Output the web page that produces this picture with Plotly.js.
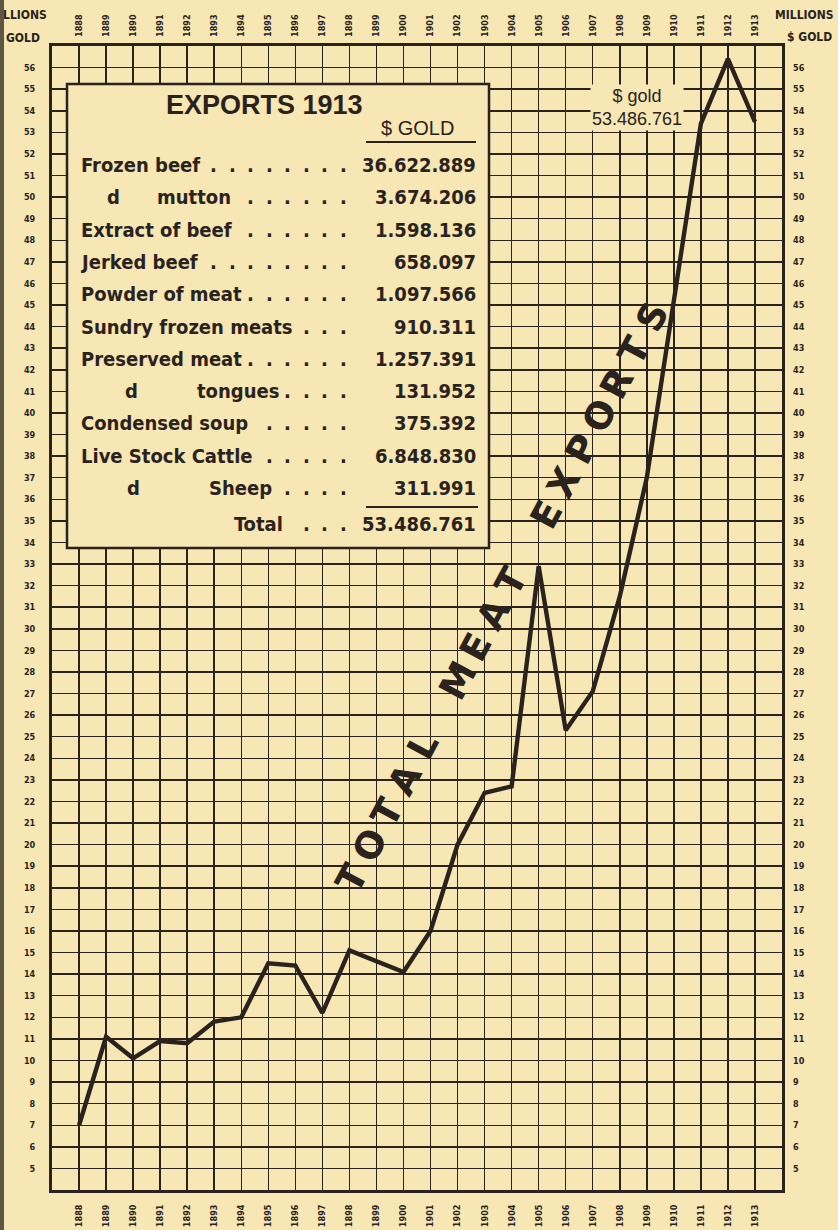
<!DOCTYPE html>
<html><head><meta charset="utf-8">
<script src="https://cdn.plot.ly/plotly-3.0.1.min.js"></script>
<style>html,body{margin:0;padding:0;background:#f6e7b4;overflow:hidden;}</style>
</head><body><div id="chart" style="width:838px;height:1230px;"></div>
<script>
// ---------------- DATA ----------------
const years = [1888,1889,1890,1891,1892,1893,1894,1895,1896,1897,1898,1899,1900,1901,1902,1903,1904,1905,1906,1907,1908,1909,1910,1911,1912,1913];
const exportsMillions = [7.0,11.1,10.1,10.9,10.8,11.8,12.0,14.5,14.4,12.2,15.1,14.6,14.1,16.0,20.0,22.4,22.7,32.9,25.3,27.1,31.5,37.0,45.2,53.4,56.4,53.49];
const yTicks = [5,6,7,8,9,10,11,12,13,14,15,16,17,18,19,20,21,22,23,24,25,26,27,28,29,30,31,32,33,34,35,36,37,38,39,40,41,42,43,44,45,46,47,48,49,50,51,52,53,54,55,56];
const tableTitle = "EXPORTS 1913";
const tableUnit = "$ GOLD";
const tableLabels = ["Frozen beef","d mutton","Extract of beef","Jerked beef","Powder of meat","Sundry frozen meats","Preserved meat","d tongues","Condensed soup","Live Stock Cattle","d Sheep"];
const tableValues = [36622889,3674206,1598136,658097,1097566,910311,1257391,131952,375392,6848830,311991];
const tableTotal = 53486761;
const totalLabel = "Total";
const lastPointLabel = "$ gold";
const slogan = "TOTAL MEAT EXPORTS";
const leftAxisTitle = ["LLIONS","GOLD"];
const rightAxisTitle = ["MILLIONS","$ GOLD"];

// ---------------- STYLE ----------------
const PAPER = '#f6e7b4', INK = '#2a231d';
const W = 838, H = 1230, L = 52, R = 782, T = 46, B = 1190;
const px = x => (x - L) / (R - L);
const py = y => (B - y) / (B - T);
const COND = '"DejaVu Sans Condensed", "DejaVu Sans", sans-serif';
const SANS = '"Liberation Sans", Arial, sans-serif';
const fmt = v => String(v).replace(/\B(?=(\d{3})+(?!\d))/g, '.');

const measureCtx = document.createElement('canvas').getContext('2d');
const textWidth = (txt, size) => { measureCtx.font = '700 ' + size + 'px ' + COND; return measureCtx.measureText(txt).width; };

const tickFont = {family: COND, size: 9, color: INK, weight: 700};
const gridStyle = {showgrid: true, gridcolor: INK, gridwidth: 1.5, zeroline: false,
  showline: true, linecolor: INK, linewidth: 3, mirror: true, ticks: '', fixedrange: true};

const traces = [
  {x: years, y: exportsMillions, type: 'scatter', mode: 'lines',
   line: {color: INK, width: 4.4}, hoverinfo: 'skip', showlegend: false},
  {x: years, y: exportsMillions, type: 'scatter', mode: 'lines', xaxis: 'x2', yaxis: 'y2',
   line: {color: INK, width: 0}, opacity: 0, hoverinfo: 'skip', showlegend: false}
];

const annotations = [];
const shapes = [];

// table box
shapes.push({type: 'rect', xref: 'paper', yref: 'paper', x0: px(67), x1: px(489), y0: py(548), y1: py(84),
  fillcolor: PAPER, line: {color: INK, width: 2.5}, layer: 'above'});
shapes.push({type: 'line', xref: 'paper', yref: 'paper', x0: px(366), x1: px(476), y0: py(142), y1: py(142),
  line: {color: INK, width: 2}, layer: 'above'});
shapes.push({type: 'line', xref: 'paper', yref: 'paper', x0: px(366), x1: px(478), y0: py(507), y1: py(507),
  line: {color: INK, width: 2}, layer: 'above'});
// scan shadow on left edge
shapes.push({type: 'rect', xref: 'paper', yref: 'paper', x0: px(0), x1: px(4), y0: py(H), y1: py(0),
  fillcolor: '#5e5646', line: {width: 0}, layer: 'above'});

const ann = (text, x, y, o) => annotations.push(Object.assign({text, x: px(x), y: py(y), xref: 'paper', yref: 'paper',
  showarrow: false, xanchor: 'center', yanchor: 'middle'}, o || {}));

ann(tableTitle, 264, 105, {font: {family: SANS, size: 27, color: INK, weight: 700}});
ann(tableUnit, 417, 128, {font: {family: SANS, size: 20, color: INK}});

const TS = 20;
const tFont = {family: COND, size: TS, color: INK, weight: 700};
const rowY0 = 165, rowStep = 32.3, dotEnd = 343, dotStep = 18.5;
const dittoX = {"d mutton": [105, 155], "d tongues": [123, 195], "d Sheep": [125, 207]};
const leaderDots = (endX, y) => {
  for (let x = dotEnd; x >= endX + 8; x -= dotStep) ann('.', x, y, {font: tFont});
};
tableLabels.forEach((lab, i) => {
  const y = rowY0 + i * rowStep;
  let endX;
  if (dittoX[lab]) {
    const rest = lab.slice(2);
    ann('d', dittoX[lab][0], y, {xanchor: 'left', font: tFont});
    ann(rest, dittoX[lab][1], y, {xanchor: 'left', font: tFont});
    endX = dittoX[lab][1] + textWidth(rest, TS);
  } else {
    ann(lab, 79, y, {xanchor: 'left', font: tFont});
    endX = 79 + textWidth(lab, TS);
  }
  leaderDots(endX, y);
  ann(fmt(tableValues[i]), 478, y, {xanchor: 'right', font: tFont});
});
ann(totalLabel, 232, 524, {xanchor: 'left', font: tFont});
leaderDots(232 + textWidth(totalLabel, TS), 524);
ann(fmt(tableTotal), 478, 524, {xanchor: 'right', font: tFont});

// label of last value
ann(lastPointLabel + '<br>' + fmt(tableTotal), 637, 108,
  {font: {family: SANS, size: 18, color: INK}, bgcolor: PAPER, borderpad: 1});

// diagonal slogan
const s0 = [352, 878], s1 = [652, 317];
const n = slogan.length - 1;
const ang = Math.atan2(s0[1] - s1[1], s1[0] - s0[0]) * 180 / Math.PI;
slogan.split('').forEach((ch, i) => {
  if (ch === ' ') return;
  ann(ch, s0[0] + (s1[0] - s0[0]) * i / n, s0[1] + (s1[1] - s0[1]) * i / n,
    {textangle: -ang, font: {family: '"DejaVu Sans", sans-serif', size: 37, color: INK, weight: 700}});
});

// axis titles
const atFont = {family: COND, size: 12, color: INK, weight: 700};
ann(leftAxisTitle[0], 1, 15, {xanchor: 'left', font: atFont});
ann(leftAxisTitle[1], 42, 38, {xanchor: 'right', font: atFont});
ann(rightAxisTitle[0], 836, 15, {xanchor: 'right', font: atFont});
ann(rightAxisTitle[1], 834, 37, {xanchor: 'right', font: atFont});

const layout = {
  width: W, height: H,
  margin: {l: L, r: W - R, t: T, b: H - B, pad: 0},
  paper_bgcolor: PAPER, plot_bgcolor: PAPER,
  showlegend: false,
  xaxis: Object.assign({range: [1887, 1914], tickvals: years, ticktext: years.map(String),
    tickangle: -90, tickfont: tickFont, ticklabelstandoff: 8}, gridStyle),
  xaxis2: {range: [1887, 1914], overlaying: 'x', side: 'top', anchor: 'y2', tickvals: years,
    ticktext: years.map(String), tickangle: -90, tickfont: tickFont, showgrid: false, zeroline: false,
    showline: false, ticks: '', ticklabelstandoff: 8, fixedrange: true},
  yaxis: Object.assign({range: [4, 57], tickvals: yTicks, ticktext: yTicks.map(String),
    tickfont: tickFont, ticklabelstandoff: 12}, gridStyle),
  yaxis2: {range: [4, 57], overlaying: 'y', side: 'right', anchor: 'x2', tickvals: yTicks,
    ticktext: yTicks.map(String), tickfont: tickFont, showgrid: false, zeroline: false, showline: false,
    ticks: '', ticklabelstandoff: 10, fixedrange: true},
  shapes, annotations
};

Plotly.newPlot('chart', traces, layout, {staticPlot: true, displayModeBar: false});
</script></body></html>
